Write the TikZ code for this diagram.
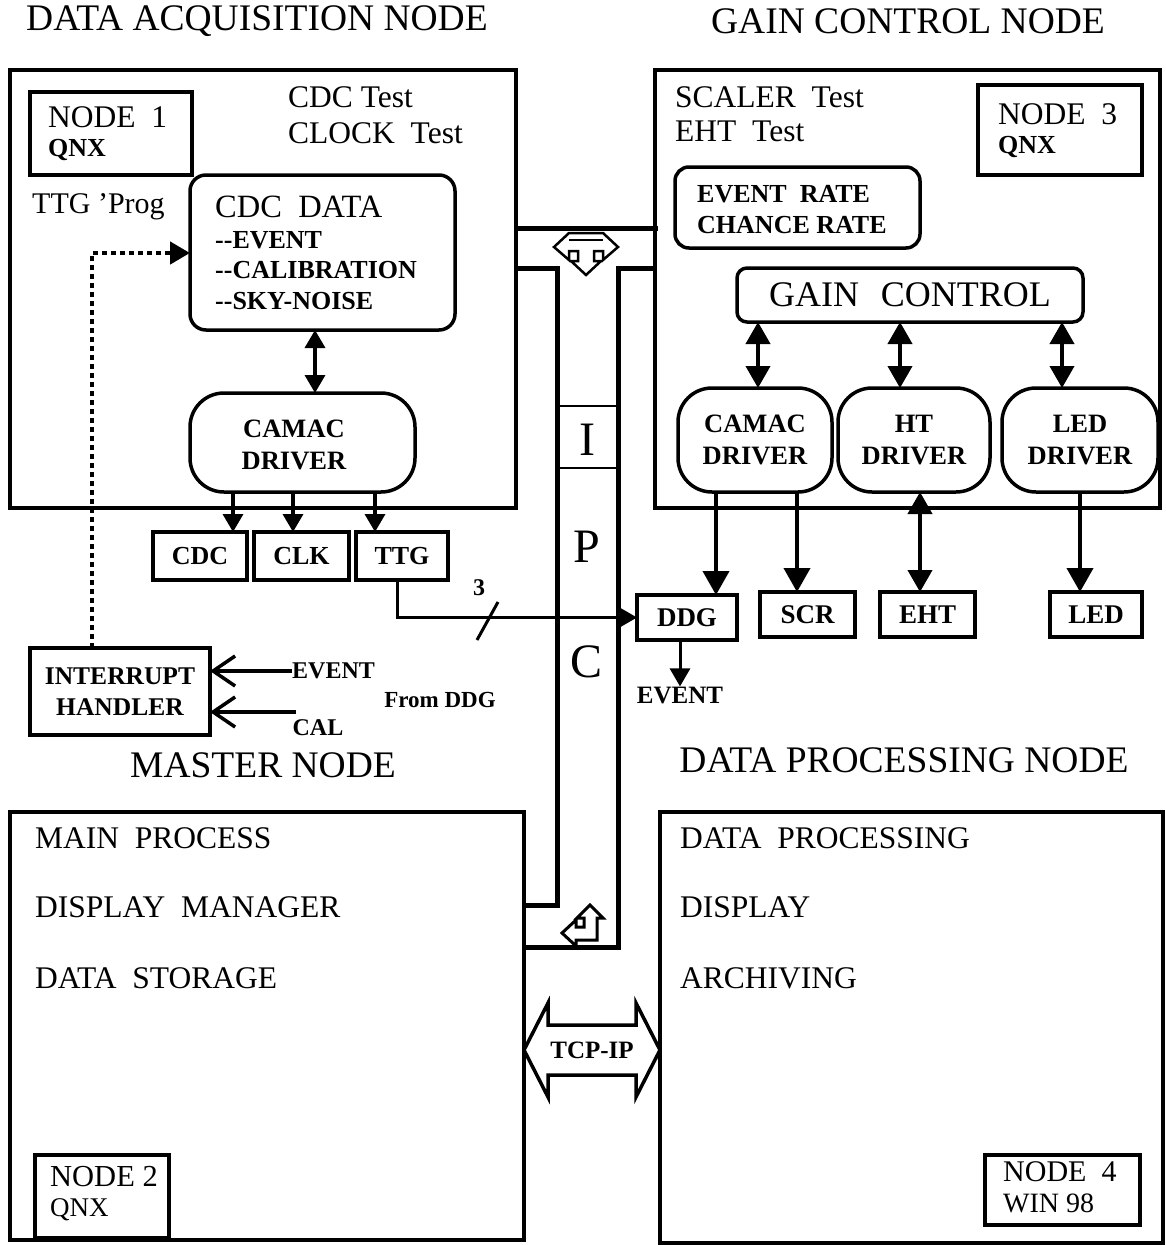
\documentclass[tikz,border=0pt]{standalone}
\usepackage{fontspec}
\setmainfont{Liberation Serif}
\usetikzlibrary{arrows.meta}
\newcommand\fsz[1]{\fontsize{#1}{#1}\selectfont}
\begin{document}
\begin{tikzpicture}[x=1pt,y=-1pt,
  obox/.style={draw, line width=4pt, inner sep=0pt, outer sep=0pt, anchor=north west},
  sbox/.style={draw, line width=3.5pt, inner sep=0pt, outer sep=0pt, anchor=north west},
  rbox/.style={sbox, rounded corners=16pt},
  drv/.style={sbox, rounded corners=34pt},
  ttl/.style={inner sep=0pt, font=\fsz{37.5}},
  rt/.style={inner sep=0pt, anchor=west, font=\fsz{31.5}},
  bt/.style={inner sep=0pt, anchor=west, font=\fsz{26}\bfseries},
  bc/.style={inner sep=0pt, font=\fsz{26}\bfseries},
  arr/.style={line width=3.5pt, -{Triangle[length=18pt,width=20pt]}},
  darr/.style={line width=3.5pt, {Triangle[length=18pt,width=20pt]}-{Triangle[length=18pt,width=20pt]}},
  garr/.style={line width=4pt, -{Triangle[length=24pt,width=26pt]}},
  gdarr/.style={line width=4pt, {Triangle[length=22pt,width=24pt]}-{Triangle[length=22pt,width=24pt]}},
  barb/.style={line width=3.5pt, -{Straight Barb[length=22pt,width=30pt,line width=3.5pt]}},
  bus/.style={line width=5pt, line cap=rect},
  dotline/.style={line width=4.5pt, dash pattern=on 5pt off 4pt, -{Triangle[length=20pt,width=22pt]}}
]
\useasboundingbox (0,0) rectangle (1166,1245);

% ---------- titles ----------
\node[ttl] (t1) at (257,21) {DATA ACQUISITION NODE};
\node[ttl] (t2) at (908,21) {GAIN CONTROL NODE};
\node[ttl] (t3) at (263,765) {MASTER NODE};
\node[ttl] (t4) at (904,760) {DATA PROCESSING NODE};

% ---------- data acquisition node ----------
\node[obox, minimum width=506pt, minimum height=438pt] (daq) at (10,70) {};
\node[sbox, minimum width=162pt, minimum height=83pt] (node1) at (30,92) {};
\node[rt] (n1a) at (48,117) {NODE\ \ 1};
\node[bt] (n1b) at (48,150) {QNX};
\node[rt] (cdct) at (288,97) {CDC Test};
\node[rt] (clkt) at (288,133) {CLOCK\ \ Test};
\node[rt, font=\fsz{30}] (ttgp) at (32,207) {TTG 'Prog};

\node[rbox, minimum width=265pt, minimum height=155pt] (cdcdata) at (190,175) {};
\node[rt, font=\fsz{32.5}] (cd1) at (215,207) {CDC\ \ DATA};
\node[bt] (cd2) at (215,240) {-{}-EVENT};
\node[bt] (cd3) at (215,270) {-{}-CALIBRATION};
\node[bt] (cd4) at (215,301) {-{}-SKY-NOISE};

\node[drv, minimum width=225pt, minimum height=99pt] (camacL) at (190,393) {};
\node[bc, font=\fsz{26.5}\bfseries, align=center] (camacLt) at (294,445) {CAMAC\\[6pt]DRIVER};

\node[sbox, minimum width=94pt, minimum height=48pt] (cdc) at (153,532) {};
\node[sbox, minimum width=95pt, minimum height=48pt] (clk) at (254,532) {};
\node[sbox, minimum width=92pt, minimum height=48pt] (ttg) at (356,532) {};
\node[bc] at (cdc) {CDC};
\node[bc] at (clk) {CLK};
\node[bc] at (ttg) {TTG};

\draw[darr] (315,0 |- cdcdata.south) -- (315,0 |- camacL.north);
\draw[arr] (233,0 |- camacL.south) -- (233,0 |- cdc.north);
\draw[arr] (293,0 |- camacL.south) -- (293,0 |- clk.north);
\draw[arr] (375,0 |- camacL.south) -- (375,0 |- ttg.north);

% interrupt handler
\node[sbox, minimum width=180pt, minimum height=87pt] (irq) at (30,648) {};
\node[bc, font=\fsz{25.5}\bfseries, align=center] (irqt) at (irq) {INTERRUPT\\[5pt]HANDLER};
\node[bt, font=\fsz{24}\bfseries] (evl) at (292,671) {EVENT};
\node[bc, font=\fsz{24}\bfseries] (call) at (318,728) {CAL};
\coordinate (calend) at (296,712);
\node[bc, font=\fsz{23}\bfseries] (fromddg) at (440,700) {From DDG};
\draw[barb] (evl.west) -- (irq.east |- evl.west);
\draw[barb] (calend) -- (irq.east |- calend);
\draw[dotline] (92,0 |- irq.north) |- (cdcdata.west |- 0,253);

% ---------- gain control node ----------
\node[obox, minimum width=505pt, minimum height=438pt] (gain) at (655,70) {};
\node[sbox, minimum width=164pt, minimum height=90pt] (node3) at (978,85) {};
\node[rt] (n3a) at (998,114) {NODE\ \ 3};
\node[bt] (n3b) at (998,147) {QNX};
\node[rt] (scal) at (675,97) {SCALER\ \ Test};
\node[rt] (ehtt) at (675,131) {EHT\ \ Test};
\node[sbox, rounded corners=14pt, minimum width=245pt, minimum height=81pt] (rate) at (675,167) {};
\node[bt] (r1) at (697,194) {EVENT\ \ RATE};
\node[bt] (r2) at (697,225) {CHANCE RATE};
\node[sbox, rounded corners=10pt, minimum width=346pt, minimum height=54pt] (gctl) at (737,268) {};
\node[inner sep=0pt, font=\fsz{36}] (gctlt) at (gctl) {GAIN\hspace{0.6em}CONTROL};

\node[drv, minimum width=154pt, minimum height=104pt] (camacR) at (678,388) {};
\node[drv, minimum width=152pt, minimum height=104pt] (htd) at (838,388) {};
\node[drv, minimum width=156pt, minimum height=104pt] (ledd) at (1002,388) {};
\node[bc, font=\fsz{26.5}\bfseries, align=center] at (camacR) {CAMAC\\[6pt]DRIVER};
\node[bc, font=\fsz{26.5}\bfseries, align=center] at (htd) {HT\\[6pt]DRIVER};
\node[bc, font=\fsz{26.5}\bfseries, align=center] at (ledd) {LED\\[6pt]DRIVER};

\draw[gdarr] (758,0 |- gctl.south) -- (758,0 |- camacR.north);
\draw[gdarr] (900,0 |- gctl.south) -- (900,0 |- htd.north);
\draw[gdarr] (1062,0 |- gctl.south) -- (1062,0 |- ledd.north);

\node[sbox, minimum width=100pt, minimum height=45pt] (ddg) at (637,595) {};
\node[sbox, minimum width=95pt, minimum height=45pt] (scr) at (760,592) {};
\node[sbox, minimum width=95pt, minimum height=45pt] (eht) at (880,592) {};
\node[sbox, minimum width=92pt, minimum height=45pt] (ledb) at (1050,592) {};
\node[bc, font=\fsz{27}\bfseries] at (ddg) {DDG};
\node[bc, font=\fsz{27}\bfseries] at (scr) {SCR};
\node[bc, font=\fsz{27}\bfseries] at (eht) {EHT};
\node[bc, font=\fsz{27}\bfseries] at (ledb) {LED};

\draw[garr] (716,0 |- camacR.south) -- (716,0 |- ddg.north);
\draw[garr] (797,0 |- camacR.south) -- (797,0 |- scr.north);
\draw[gdarr] (920,0 |- htd.south) -- (920,0 |- eht.north);
\draw[garr] (1080,0 |- ledd.south) -- (1080,0 |- ledb.north);

\node[bc, font=\fsz{25}\bfseries] (ddgev) at (680,695) {EVENT};
\draw[arr, line width=3pt] (680,0 |- ddg.south) -- (ddgev.north);

% TTG -> DDG
\draw[line width=3pt, -{Triangle[length=18pt,width=20pt]}] (397,0 |- ttg.south) |- (ddg.west);
\draw[line width=3pt] (477,640) -- (498,602);
\node[bc, font=\fsz{24}\bfseries] (three) at (479,588) {3};

% ---------- master node ----------
\node[obox, minimum width=514pt, minimum height=428pt] (master) at (10,812) {};
\node[rt] (m1) at (35,838) {MAIN\ \ PROCESS};
\node[rt] (m2) at (35,907) {DISPLAY\ \ MANAGER};
\node[rt] (m3) at (35,978) {DATA\ \ STORAGE};
\node[sbox, minimum width=134pt, minimum height=83pt] (node2) at (35,1155) {};
\node[rt, font=\fsz{30.5}] (n2a) at (50,1177) {NODE\ 2};
\node[rt, font=\fsz{27}] (n2b) at (50,1210) {QNX};

% ---------- data processing node ----------
\node[obox, minimum width=503pt, minimum height=431pt] (dp) at (660,812) {};
\node[rt] (d1) at (680,838) {DATA\ \ PROCESSING};
\node[rt] (d2) at (680,907) {DISPLAY};
\node[rt] (d3) at (680,978) {ARCHIVING};
\node[sbox, minimum width=155pt, minimum height=70pt] (node4) at (985,1155) {};
\node[rt, font=\fsz{30}] (n4a) at (1003,1172) {NODE\ \ 4};
\node[rt, font=\fsz{28}] (n4b) at (1003,1203) {WIN\ 98};

% ---------- IPC bus ----------
\draw[bus] (daq.east |- 0,228) -- (gain.west |- 0,228);
\draw[bus, line cap=butt] (daq.east |- 0,268) -- (557,268) -- (557,905) -- (master.east |- 0,905);
\draw[bus, line cap=butt] (gain.west |- 0,268) -- (618,268) -- (618,947) -- (master.east |- 0,947);
\draw[line width=2pt] (557,406) -- (618,406);
\draw[line width=2pt] (557,468) -- (618,468);
\node[inner sep=0pt, font=\fsz{48}] (ipcI) at (587,440) {I};
\node[inner sep=0pt, font=\fsz{48}] (ipcP) at (587,547) {P};
\node[inner sep=0pt, font=\fsz{48}] (ipcC) at (587,662) {C};

% T-shaped three-way arrow hanging from the bus
\draw[line width=2.5pt, line join=miter, fill=white]
  (569,233) -- (603,233) -- (618,247) -- (603,260) -- (603,251) -- (594,251) -- (594,261)
  -- (601,261) -- (586,275) -- (571,261) -- (578,261) -- (578,251) -- (569,251)
  -- (569,260) -- (554,247) -- cycle;
\draw[line width=2pt] (569,240) -- (603,240);

% L-shaped return arrow
\draw[line width=3pt, line join=miter, fill=white]
  (590,905) -- (603,918) -- (597,918) -- (597,940) -- (576,940) -- (576,946)
  -- (562,933) -- (576,920) -- (576,927) -- (584,927) -- (584,918) -- (577,918) -- cycle;

% ---------- TCP-IP arrow ----------
\draw[line width=3.5pt, line join=miter, fill=white]
  (master.east |- 0,1050) -- (548,1003) -- (548,1025) -- (636,1025) -- (636,1003)
  -- (dp.west |- 0,1050) -- (636,1097) -- (636,1075) -- (548,1075) -- (548,1097) -- cycle;
\node[bc, font=\fsz{25}\bfseries] (tcp) at (592,1050) {TCP-IP};

\end{tikzpicture}
\end{document}
